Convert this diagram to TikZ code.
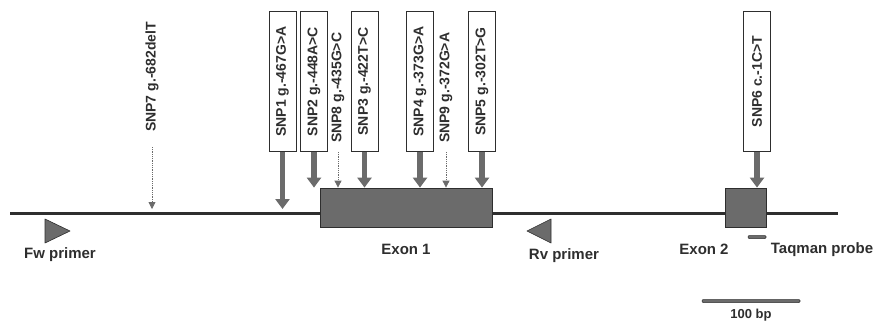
\documentclass[tikz,border=0pt]{standalone}
\usepackage{fontspec}
\setmainfont{Liberation Sans}
\usetikzlibrary{arrows.meta, positioning}
\colorlet{dnagray}{black!58}
\colorlet{inkgray}{black!82}

\begin{document}
\begin{tikzpicture}[
      x=1pt, y=-1pt,
      snpbox/.style={draw=inkgray, line width=0.9pt, fill=white, rotate=90, anchor=west,
                     minimum width=140pt, minimum height=27pt, inner sep=1pt,
                     text=inkgray, font=\fontsize{14}{16}\selectfont\bfseries},
      snptext/.style={rotate=90, anchor=west, inner sep=1pt,
                      text=inkgray, font=\fontsize{14}{16}\selectfont\bfseries},
      lbl/.style={text=inkgray, inner sep=1pt, font=\fontsize{15}{17}\selectfont\bfseries},
      exon/.style={draw=inkgray, fill=dnagray, line width=0.8pt, inner sep=0pt},
      dna/.style={inkgray, line width=3pt},
      primer/.style={draw=inkgray, fill=dnagray, line width=0.6pt, line join=round},
      snplink/.style={dnagray, line width=5.5pt, -{Triangle[width=14pt, length=10pt]}},
      weaklink/.style={dnagray, line width=0.8pt, densely dotted,
                       -{Triangle[width=7pt, length=7pt]}}
    ]
    \useasboundingbox (0,0) rectangle (875,325);

    \coordinate (dnastart) at (10,213);
    \coordinate (dnaend) at (838,213);
    \coordinate (dnatop) at (0,209);
    \draw[dna] (dnastart) -- (dnaend);

    \node[exon, minimum width=172pt, minimum height=39pt] (exon1) at (406,207.5) {};
    \node[exon, minimum width=41pt, minimum height=39pt] (exon2) at (745.5,207.5) {};
    \node[fill=dnagray, draw=inkgray, line width=0.5pt, rounded corners=1pt,
          minimum width=18pt, minimum height=3pt, inner sep=0pt] (probe) at (757,237) {};

    \draw[primer] (45,219) -- (45,243) -- (70,231) -- cycle;
    \draw[primer] (551,219) -- (551,243) -- (527,231) -- cycle;

    \node[lbl] (fwlbl) at (60,255) {Fw primer};
    \node[lbl] (rvlbl) at (564,256) {Rv primer};
    \node[lbl] (exon1lbl) at (406,249) {Exon 1};
    \node[lbl] (exon2lbl) at (704,249) {Exon 2};
    \node[lbl] (probelbl) at (822,250) {Taqman probe};

    \node[snpbox] (snp1) at (282.5,152) {SNP1 g.-467G>A};
    \node[snpbox] (snp2) at (314,152) {SNP2 g.-448A>C};
    \node[snpbox] (snp3) at (364.5,152) {SNP3 g.-422T>C};
    \node[snpbox] (snp4) at (420,152) {SNP4 g.-373G>A};
    \node[snpbox] (snp5) at (482,152) {SNP5 g.-302T>G};
    \node[snpbox] (snp6) at (757,152) {SNP6 c.-1C>T};
    \node[snptext] (snp7) at (152,133) {SNP7 g.-682delT};
    \node[snptext] (snp8) at (338,144) {SNP8 g.-435G>C};
    \node[snptext] (snp9) at (446,144) {SNP9 g.-372G>A};

    \draw[snplink] (snp1.west) -- (snp1.west |- dnatop);
    \draw[snplink] (snp2.west) -- (snp2.west |- exon1.north);
    \draw[snplink] (snp3.west) -- (snp3.west |- exon1.north);
    \draw[snplink] (snp4.west) -- (snp4.west |- exon1.north);
    \draw[snplink] (snp5.west) -- (snp5.west |- exon1.north);
    \draw[snplink] (snp6.west) -- (snp6.west |- exon2.north);

    \draw[weaklink] ([yshift=-14pt]snp7.west) -- (snp7.west |- dnatop);
    \draw[weaklink] ([yshift=-8pt]snp8.west) -- (snp8.west |- exon1.north);
    \draw[weaklink] ([yshift=-8pt]snp9.west) -- (snp9.west |- exon1.north);

    \node[fill=dnagray, draw=inkgray, line width=0.5pt, rounded corners=1pt,
          minimum width=98pt, minimum height=3pt, inner sep=0pt] (scalebar) at (751,301) {};
    \node[lbl, font=\fontsize{13}{15}\selectfont\bfseries, below=7pt of scalebar.center] (scalelbl) {100 bp};
  \end{tikzpicture}
\end{document}
